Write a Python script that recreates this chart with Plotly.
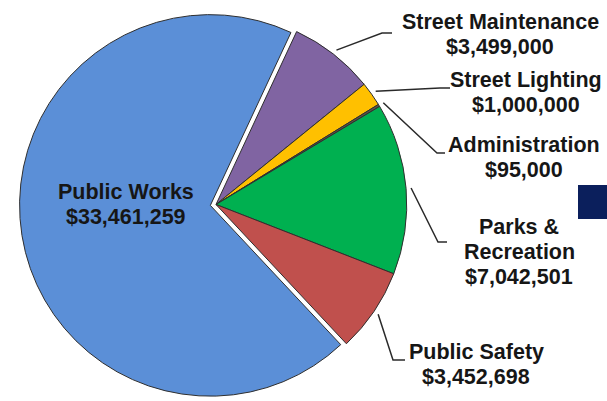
import math
import plotly.graph_objects as go

# ---- data ----
departments = ["Street Maintenance", "Street Lighting", "Administration",
               "Parks & Recreation", "Public Safety", "Public Works"]
label_lines = [["Street Maintenance"], ["Street Lighting"], ["Administration"],
               ["Parks &", "Recreation"], ["Public Safety"], ["Public Works"]]
budgets = [3499000, 1000000, 95000, 7042501, 3452698, 33461259]
colors = ["#8064A2", "#FFC000", "#5E5445", "#00B050", "#C0504D", "#5B8FD7"]
pulls = [0, 0, 0, 0, 0, 0.03]

# ---- layout constants (pixels) ----
W, H = 607, 401
ROT = 25
cx_px, cy_px = 216, 204.5
dom_h = 393
r_px = dom_h / (2 * (1 + max(pulls)))

# label placement: centre x and y of first line, line step; leader end + elbow x
lab_cx = [500, 526, 524, 519, 476, 126]
lab_y0 = [22, 80, 145, 227, 352, 192]
LINE_STEP = 25
lead_end = [(392, 33), (450, 88), (445, 153), (447, 242), (405, 360), None]
lead_elbow_x = [382, 440, 437, 438, 393, None]

fig = go.Figure(go.Pie(
    labels=departments, values=budgets, sort=False, direction="clockwise",
    rotation=ROT, pull=pulls, textinfo="none", hoverinfo="label+value",
    marker=dict(colors=colors, line=dict(color="#2f2f2f", width=1)),
    domain=dict(x=[0, 2 * cx_px / W], y=[0, dom_h / H]),
    showlegend=False,
))

def px(x):
    return x / W

def py(y):
    return 1 - y / H

total = sum(budgets)
cum = 0
annotations = []
shapes = []
for i, v in enumerate(budgets):
    start = ROT + 360 * cum / total
    cum += v
    end = ROT + 360 * cum / total
    mid = math.radians((start + end) / 2)
    lines = label_lines[i] + [f"${v:,}"]
    for k, line in enumerate(lines):
        annotations.append(dict(
            x=px(lab_cx[i]), y=py(lab_y0[i] + k * LINE_STEP),
            xref="paper", yref="paper",
            text=line, showarrow=False, xanchor="center", yanchor="middle",
            align="center",
            font=dict(family="Liberation Sans, Arial", size=21.5,
                      color="#161616", weight="bold"),
        ))
    if lead_end[i] is not None:
        rr = r_px + 5
        sx = cx_px + rr * math.sin(mid)
        sy = cy_px - rr * math.cos(mid)
        ex, ey = lead_end[i]
        bx = lead_elbow_x[i]
        path = (f"M {px(sx)} {py(sy)} L {px(bx)} {py(ey)} L {px(ex)} {py(ey)}")
        shapes.append(dict(type="path", path=path, xref="paper", yref="paper",
                           line=dict(color="#2a2a2a", width=1.5)))

# decorative navy block at right edge
shapes.append(dict(type="rect", xref="paper", yref="paper",
                   x0=px(578), x1=px(610), y0=py(185), y1=py(219),
                   fillcolor="#0B1F5C", line=dict(width=0)))

fig.update_layout(
    width=W, height=H, margin=dict(l=0, r=0, t=0, b=0),
    paper_bgcolor="white", plot_bgcolor="white",
    annotations=annotations, shapes=shapes,
)

fig.write_html("out.html", config={"displayModeBar": False},
               post_script="document.body.style.margin='0';"
                           "document.body.style.overflow='hidden';")
